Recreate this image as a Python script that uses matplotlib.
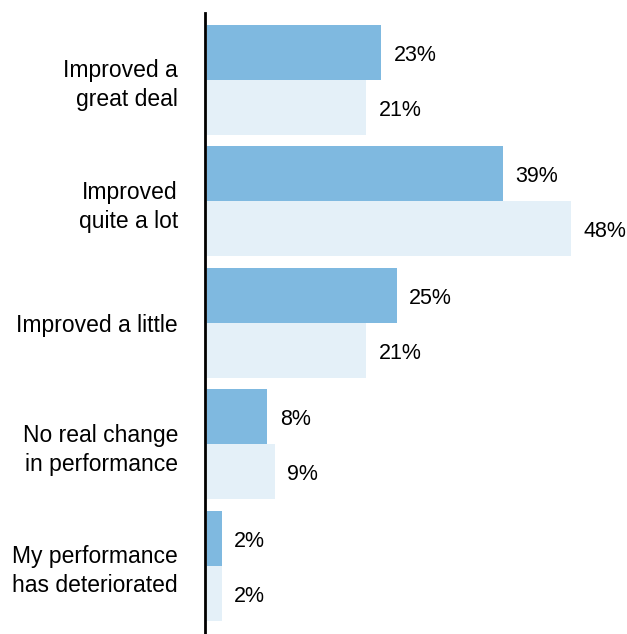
import matplotlib
matplotlib.use("Agg")
import matplotlib.pyplot as plt
import numpy as np

categories = ["Improved a\ngreat deal", "Improved\nquite a lot", "Improved a little",
              "No real change\nin performance", "My performance\nhas deteriorated"]
series_a = [23, 39, 25, 8, 2]
series_b = [21, 48, 21, 9, 2]

plt.rcParams['font.family'] = ['Liberation Sans', 'DejaVu Sans']

fig = plt.figure(figsize=(6.27, 6.34), dpi=100)
ax = fig.add_axes([205 / 627, 0, 422 / 627, 621 / 634])

y = np.arange(len(categories))
h = 0.453
ax.barh(y - h / 2, series_a, height=h, color='#7FB9E0', left=0.2)
ax.barh(y + h / 2, series_b, height=h, color='#E4F0F8', left=0.2)

for i in range(len(categories)):
    ax.annotate(f"{series_a[i]}%", (series_a[i] + 0.2, y[i] - h / 2), xytext=(9, -2),
                textcoords='offset points', va='center', ha='left', fontsize=15.5)
    ax.annotate(f"{series_b[i]}%", (series_b[i] + 0.2, y[i] + h / 2), xytext=(9, -2),
                textcoords='offset points', va='center', ha='left', fontsize=15.5)

ax.set_xlim(0, 422 / 7.6)
ax.set_ylim(4.56, -0.551)
ax.set_yticks(y)
ax.set_yticklabels(categories, fontsize=16.5, linespacing=1.32)
ax.tick_params(axis='y', length=0, pad=19.5)
ax.set_xticks([])
for s in ['top', 'right', 'bottom']:
    ax.spines[s].set_visible(False)
ax.spines['left'].set_linewidth(2)
ax.spines['left'].set_color('black')

fig.savefig('out.png', dpi=100)
